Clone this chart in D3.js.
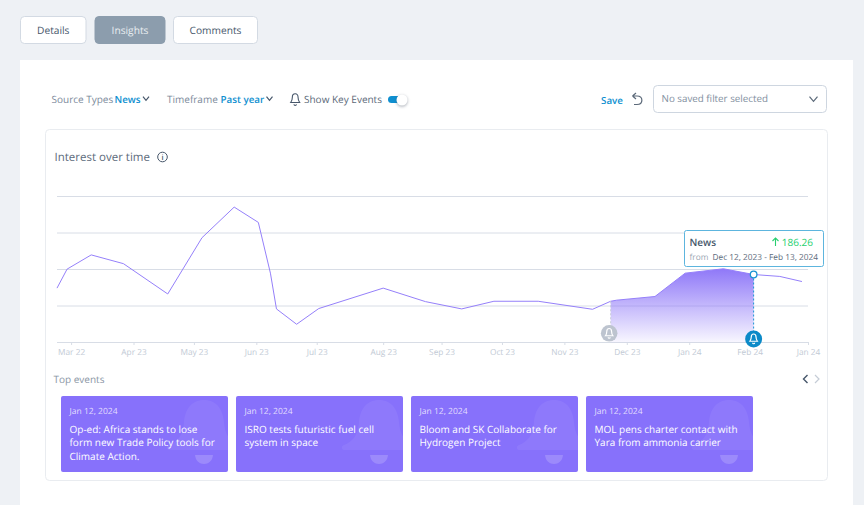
<!DOCTYPE html>
<html>
<head>
<meta charset="utf-8">
<script src="https://cdn.jsdelivr.net/npm/d3@7"></script>
<style>
  html, body { margin: 0; padding: 0; background: #eef1f5; overflow: hidden; }
  svg { display: block; }
  text { font-family: "Open Sans", sans-serif; text-rendering: geometricPrecision; }
</style>
</head>
<body>
<svg id="page" width="864" height="505"></svg>
<script>
// values
var dates = ["2023-02-22","2023-02-27","2023-03-11","2023-03-27","2023-04-18","2023-05-05","2023-05-21","2023-06-02","2023-06-08","2023-06-11","2023-06-21","2023-07-02","2023-08-03","2023-08-24","2023-09-11","2023-09-27","2023-10-19","2023-11-15","2023-11-24","2023-11-27","2023-12-16","2023-12-31","2024-01-19","2024-02-03","2024-02-16","2024-02-27"];
var values = [149,201,240,216,133,287,371,329,190,92,50,93,149,112,92,113,113,91,113,116,126,190,202,186.26,181,167];
var tickDates = ["2023-03-01","2023-04-01","2023-05-01","2023-06-01","2023-07-01","2023-08-03","2023-09-01","2023-10-01","2023-11-01","2023-12-02","2024-01-02","2024-02-01","2024-03-01"];
var tickLabels = ["Mar 22","Apr 23","May 23","Jun 23","Jul 23","Aug 23","Sep 23","Oct 23","Nov 23","Dec 23","Jan 24","Feb 24","Jan 24"];
var gridValues = [0,100,200,300,400];
var selStart = "2023-11-24", selEnd = "2024-02-03";

var tabs = ["Details","Insights","Comments"];
var tabX = [20.5,95,173.5], tabW = [65.5,70,84];
var eventDates = ["Jan 12, 2024","Jan 12, 2024","Jan 12, 2024","Jan 12, 2024"];
var eventTitles = [
  ["Op-ed: Africa stands to lose","form new Trade Policy tools for","Climate Action."],
  ["ISRO tests futuristic fuel cell","system in space"],
  ["Bloom and SK Collaborate for","Hydrogen Project"],
  ["MOL pens charter contact with","Yara from ammonia carrier"]
];

var bellLine = "M12 3C9 3 7.2 5.5 7.2 9C7.2 13 6 15.5 4.5 17.5L19.5 17.5C18 15.5 16.8 13 16.8 9C16.8 5.5 15 3 12 3ZM10 20.5A2 2 0 0 0 14 20.5";
var bellBody = "M143 4C130 4 124 14 123 26C122 40 116 46 108 49C105 50 105 54 109 54L177 54C181 54 181 50 178 49C170 46 164 40 163 26C162 14 156 4 143 4Z";
var bellClapper = "M134 59L152 59C151 71 135 71 134 59Z";

var svg = d3.select("#page");
var parse = d3.utcParse("%Y-%m-%d");
var data = dates.map(function(d, i) { return {date: parse(d), value: values[i]}; });

function label(g, x, y, s, size, color, weight, anchor) {
  return g.append("text").attr("x", x).attr("y", y).text(s)
    .attr("font-size", size).attr("fill", color)
    .attr("font-weight", weight || 400).attr("text-anchor", anchor || "start");
}
function chevron(g, x, y, w, color, sw) {
  g.append("path").attr("d", "M" + (x - w) + " " + (y - w * 0.6) + "L" + x + " " + (y + w * 0.6) + "L" + (x + w) + " " + (y - w * 0.6))
    .attr("fill", "none").attr("stroke", color).attr("stroke-width", sw || 1.2);
}

// page panels
svg.append("rect").attr("x", 20).attr("y", 60).attr("width", 833).attr("height", 445).attr("fill", "#fff");
svg.append("rect").attr("x", 45.5).attr("y", 129.5).attr("width", 782).attr("height", 351).attr("rx", 4)
  .attr("fill", "#fff").attr("stroke", "#e9ecf0");

// tabs
var tab = svg.selectAll(".tab").data(tabs).join("g").attr("class", "tab");
tab.append("rect").attr("x", function(d, i) { return tabX[i]; }).attr("y", 16.5)
  .attr("width", function(d, i) { return tabW[i]; }).attr("height", 27).attr("rx", 4)
  .attr("fill", function(d, i) { return i == 1 ? "#8c9dad" : "#fff"; })
  .attr("stroke", function(d, i) { return i == 1 ? "#8c9dad" : "#d3dae3"; });
tab.append("text").attr("x", function(d, i) { return tabX[i] + tabW[i] / 2; }).attr("y", 34)
  .attr("text-anchor", "middle").attr("font-size", 10.2).attr("font-weight", 500)
  .attr("fill", function(d, i) { return i == 1 ? "#e9edf1" : "#46566a"; }).text(function(d) { return d; });

// filter row
var grey = "#7c8a9b", blue = "#0f8fd0";
label(svg, 51.5, 103, "Source Types", 10, grey);
label(svg, 114.5, 103, "News", 9.8, blue, 600);
chevron(svg, 146, 98.5, 3, "#46566a");
label(svg, 167, 103, "Timeframe", 10, grey);
label(svg, 220.5, 103, "Past year", 9.8, blue, 600);
chevron(svg, 269.5, 98.5, 3, "#46566a");
svg.append("path").attr("d", bellLine).attr("transform", "translate(288,92) scale(0.6)")
  .attr("fill", "none").attr("stroke", "#46566a").attr("stroke-width", 1.8);
label(svg, 304, 103, "Show Key Events", 10, "#5b6979");
svg.append("rect").attr("x", 388).attr("y", 96).attr("width", 16).attr("height", 7).attr("rx", 3.5).attr("fill", blue);
svg.append("circle").attr("cx", 402).attr("cy", 100).attr("r", 5.5).attr("fill", "#fff")
  .style("filter", "drop-shadow(0 1px 1.5px rgba(60,70,90,.45))");

label(svg, 601, 103.5, "Save", 9.8, blue, 600);
svg.append("path").attr("d", "M632.5 96L636 93M632.5 96L636 99M632.5 96L637 96C643.5 96 643.5 104.5 637 104.5L634 104.5")
  .attr("fill", "none").attr("stroke", "#5b6979").attr("stroke-width", 1.2);
svg.append("rect").attr("x", 653.5).attr("y", 85.5).attr("width", 173).attr("height", 27).attr("rx", 4)
  .attr("fill", "#fff").attr("stroke", "#ced6e0");
label(svg, 661.5, 102, "No saved filter selected", 9.8, "#8390a0");
chevron(svg, 813.5, 99, 4, "#5b6979");

// heading
label(svg, 54.5, 161, "Interest over time", 11.5, "#5d6b7c", 500);
svg.append("circle").attr("cx", 162.5).attr("cy", 157).attr("r", 4.8).attr("fill", "none").attr("stroke", "#46566a");
label(svg, 162.5, 160, "i", 7.5, "#46566a", 600, "middle");

// chart scales
var x = d3.scaleUtc().domain([parse("2023-02-22"), parse("2024-03-01")]).range([57, 808]);
var y = d3.scaleLinear().domain([0, 400]).range([342.5, 196.5]);

var defs = svg.append("defs");
var grad = defs.append("linearGradient").attr("id", "fillGrad").attr("x1", 0).attr("x2", 0).attr("y1", 0).attr("y2", 1);
grad.append("stop").attr("offset", 0).attr("stop-color", "#8f78f8").attr("stop-opacity", 1);
grad.append("stop").attr("offset", 1).attr("stop-color", "#8f78f8").attr("stop-opacity", 0.06);

// grid lines
var yAxis = d3.axisLeft(y).tickValues(gridValues).tickSize(-751).tickFormat("").offset(0);
var gy = svg.append("g").attr("transform", "translate(57,0)").call(yAxis);
gy.select(".domain").remove();
gy.selectAll("line").attr("stroke", "#d8dde6");

// x axis
var xAxis = d3.axisBottom(x).tickValues(tickDates.map(parse)).tickSize(3)
  .tickFormat(function(d, i) { return tickLabels[i]; });
var gx = svg.append("g").attr("transform", "translate(0,342)").call(xAxis);
gx.select(".domain").attr("stroke", "#d8dde6").attr("d", "M57 0.5H808");
gx.selectAll("line").attr("stroke", "#d8dde6");
gx.selectAll("text").attr("fill", "#c2cad5").attr("font-size", 8.3).attr("dy", "0.8em")
  .style("font-family", '"Open Sans", sans-serif');

// selected range
var inRange = data.filter(function(d) { return d.date >= parse(selStart) && d.date <= parse(selEnd); });
var area = d3.area().x(function(d) { return x(d.date); }).y0(y(0)).y1(function(d) { return y(d.value); });
svg.append("path").datum(inRange).attr("d", area).attr("fill", "url(#fillGrad)");

var line = d3.line().x(function(d) { return x(d.date); }).y(function(d) { return y(d.value); });
svg.append("path").datum(data).attr("d", line).attr("fill", "none").attr("stroke", "#9580fa").attr("stroke-width", 1);

// event markers
var first = inRange[0], last = inRange[inRange.length - 1];
svg.append("line").attr("x1", x(first.date)).attr("x2", x(first.date)).attr("y1", y(first.value)).attr("y2", 334)
  .attr("stroke", "#c9ced8").attr("stroke-dasharray", "2,2");
svg.append("line").attr("x1", x(last.date)).attr("x2", x(last.date)).attr("y1", y(last.value)).attr("y2", 339)
  .attr("stroke", "#1a93d3").attr("stroke-dasharray", "2,2");
svg.append("circle").attr("cx", x(first.date) - 1.5).attr("cy", 333.3).attr("r", 8.3).attr("fill", "#bdc4cf");
svg.append("path").attr("d", bellLine).attr("transform", "translate(" + (x(first.date) - 7.5) + ",327) scale(0.5)")
  .attr("fill", "none").attr("stroke", "#fff").attr("stroke-width", 2.4);
svg.append("circle").attr("cx", x(last.date)).attr("cy", 339).attr("r", 8.5).attr("fill", "#0c8ac8");
svg.append("path").attr("d", bellLine).attr("transform", "translate(" + (x(last.date) - 6) + ",332.5) scale(0.5)")
  .attr("fill", "none").attr("stroke", "#fff").attr("stroke-width", 2.4);
svg.append("circle").attr("cx", x(last.date)).attr("cy", y(last.value)).attr("r", 3.3).attr("fill", "#fff")
  .attr("stroke", "#1a93d3").attr("stroke-width", 1.3);

// tooltip
svg.append("rect").attr("x", 684.5).attr("y", 230.5).attr("width", 139).attr("height", 36).attr("rx", 2)
  .attr("fill", "#fff").attr("stroke", "#5db5de");
label(svg, 689.5, 245.5, "News", 10, "#46566a", 600);
svg.append("path").attr("d", "M775.5 246V238M772.5 241L775.5 238L778.5 241").attr("fill", "none").attr("stroke", "#27cf6f").attr("stroke-width", 1.1);
label(svg, 813, 245.5, "186.26", 10, "#27cf6f", 500, "end");
label(svg, 689.5, 259.5, "from", 8.3, "#9aa5b2");
label(svg, 818, 259.5, "Dec 12, 2023 - Feb 13, 2024", 8.3, "#5d6b7c", 400, "end");

// top events
label(svg, 53.5, 382.5, "Top events", 10, "#8a96a5");
svg.append("path").attr("d", "M807.5 375L803.5 379L807.5 383").attr("fill", "none").attr("stroke", "#46566a").attr("stroke-width", 1.4);
svg.append("path").attr("d", "M815 375L819 379L815 383").attr("fill", "none").attr("stroke", "#c5ccd6").attr("stroke-width", 1.2);

var cardX = d3.scaleLinear().domain([0, 1]).range([61, 236]);
var card = svg.selectAll(".card").data(eventTitles).join("g").attr("class", "card")
  .attr("transform", function(d, i) { return "translate(" + cardX(i) + ",396)"; });
card.append("clipPath").attr("id", function(d, i) { return "cardClip" + i; })
  .append("rect").attr("width", 167).attr("height", 76).attr("rx", 2);
card.append("rect").attr("width", 167).attr("height", 76).attr("rx", 2).attr("fill", "#8771fb");
var mark = card.append("g").attr("clip-path", function(d, i) { return "url(#cardClip" + i + ")"; });
mark.append("path").attr("d", bellBody).attr("fill", "#fff").attr("fill-opacity", 0.06);
mark.append("path").attr("d", bellClapper).attr("fill", "#fff").attr("fill-opacity", 0.18);
card.append("text").attr("x", 8.5).attr("y", 18).attr("font-size", 8.5).attr("fill", "#e4dffe")
  .text(function(d, i) { return eventDates[i]; });
card.selectAll(".ttl").data(function(d) { return d; }).join("text").attr("class", "ttl")
  .attr("x", 8.5).attr("y", function(d, i) { return 37 + i * 13.3; })
  .attr("font-size", 10).attr("font-weight", 500).attr("fill", "#fff").text(function(d) { return d; });
</script>
</body>
</html>
